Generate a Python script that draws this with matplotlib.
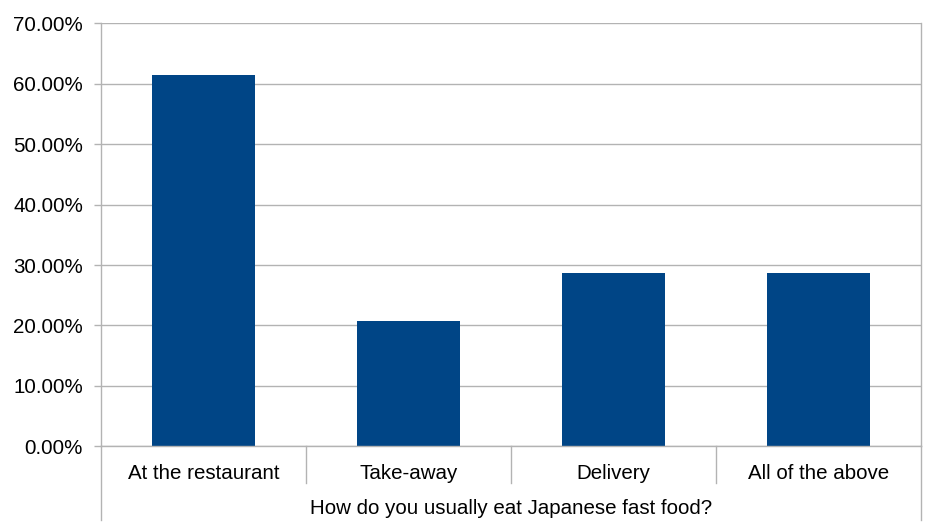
import matplotlib
matplotlib.use("Agg")
import matplotlib.pyplot as plt
from matplotlib.ticker import PercentFormatter

# data
categories = ["At the restaurant", "Take-away", "Delivery", "All of the above"]
shares = [0.6139, 0.2079, 0.2871, 0.2871]
question = "How do you usually eat Japanese fast food?"

bar_color = "#004586"
line_color = "#b3b3b3"

plt.rcParams["font.family"] = ["Liberation Sans", "DejaVu Sans"]

fig = plt.figure(figsize=(9.45, 5.31), dpi=100)
ax = fig.add_axes([101 / 945, 1 - 446.3 / 531, 820 / 945, 423 / 531])

x = list(range(len(categories)))
ax.bar(x, shares, width=0.5, color=bar_color, zorder=3)

ax.set_xlim(-0.5, len(categories) - 0.5)
ax.set_ylim(0, 0.7)
ax.set_yticks([i / 10 for i in range(8)])
ax.yaxis.set_major_formatter(PercentFormatter(1.0, decimals=2))
ax.grid(axis="y", color=line_color, linewidth=1, zorder=0)

for side in ["top", "bottom"]:
    ax.spines[side].set_visible(False)
for side in ["left", "right"]:
    ax.spines[side].set_color(line_color)
    ax.spines[side].set_linewidth(1)

ax.tick_params(axis="y", length=5, width=1, color=line_color, labelsize=14.8, pad=8)
ax.set_xticks(x)
ax.set_xticklabels(categories, fontsize=14.8)
ax.tick_params(axis="x", length=0, pad=13)

# category separators and outer box of the two-level axis
trans = ax.get_xaxis_transform()
for b in [i + 0.5 for i in x[:-1]]:
    ax.plot([b, b], [0, -0.0875], transform=trans, color=line_color, lw=1, clip_on=False)
for b in [-0.5, len(categories) - 0.5]:
    ax.plot([b, b], [0, -0.175], transform=trans, color=line_color, lw=1, clip_on=False)
ax.plot([-0.5, len(categories) - 0.5], [0, 0], transform=trans, color=line_color, lw=1, clip_on=False, zorder=4)

ax.text(0.5, -0.148, question, transform=ax.transAxes, ha="center", va="center", fontsize=14.8)

fig.savefig("out.png", dpi=100)
